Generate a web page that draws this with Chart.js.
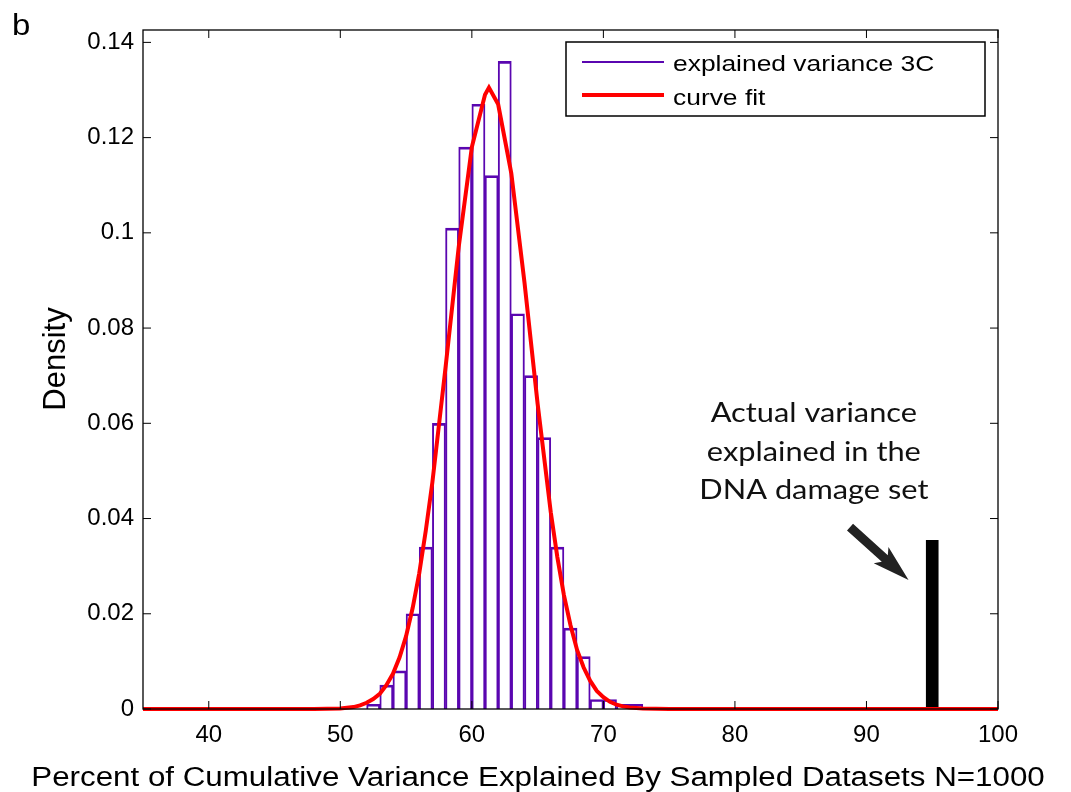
<!DOCTYPE html>
<html>
<head>
<meta charset="utf-8">
<script src="https://cdn.jsdelivr.net/npm/chart.js@4.4.1/dist/chart.umd.min.js"></script>
<style>
  html, body { margin: 0; padding: 0; background: #fff; }
  #wrap { width: 1071px; height: 792px; position: relative; }
</style>
</head>
<body>
<div id="wrap"><canvas id="chart"></canvas></div>
<script>
// histogram bins (centres) and densities, N=1000
const binCenters = [52.5, 53.5, 54.5, 55.5, 56.5, 57.5, 58.5, 59.5, 60.5, 61.5, 62.5,
  63.5, 64.5, 65.5, 66.5, 67.5, 68.5, 69.5, 70.5, 71.5, 72.5];
const density = [0.001, 0.005, 0.008, 0.020, 0.034, 0.060, 0.101, 0.118, 0.127, 0.112, 0.136,
  0.083, 0.070, 0.057, 0.034, 0.017, 0.011, 0.002, 0.002, 0.001, 0.001];

// fitted curve
const fitX = [35, 48, 49, 50, 50.5, 51, 51.5, 52, 52.5, 53, 53.5, 54, 54.5, 55, 55.5, 56, 56.5,
  57, 58, 59, 60, 61, 61.3, 62, 63, 64, 65, 66, 66.5, 67, 67.5, 68, 68.5, 69, 69.5, 70, 70.5,
  71, 71.5, 72, 73, 75, 100];
const fitY = [0, 0, 0.00004, 0.0001, 0.00025, 0.0004, 0.00076, 0.0013, 0.0021, 0.0032, 0.005,
  0.0074, 0.0108, 0.0153, 0.0212, 0.0285, 0.0375, 0.0476, 0.0717, 0.097, 0.118, 0.129, 0.1305,
  0.127, 0.1125, 0.0896, 0.0641, 0.0413, 0.0319, 0.0239, 0.0176, 0.0124, 0.0087, 0.0059, 0.0038,
  0.0025, 0.0015, 0.0009, 0.00055, 0.0003, 0.0001, 0, 0];

// actual DNA damage set value
const actualX = [95];
const actualY = [0.0355];

const xTicks = [40, 50, 60, 70, 80, 90, 100];
const yTicks = [0, 0.02, 0.04, 0.06, 0.08, 0.1, 0.12, 0.14];

const noteLines = ["Actual variance", "explained in the", "DNA damage set"];
const arrowFrom = [88.75, 0.0382];
const arrowTo = [93.2, 0.0271];

const PURPLE = "#5a06b0";
const RED = "#ff0000";
const FONT = "'Liberation Sans', Arial, sans-serif";

// text with the slight horizontal stretch of the original figure
const stretchText = (ctx, txt, x, y, align, sx = 1.1) => {
  ctx.save();
  ctx.translate(x, y);
  ctx.scale(sx, 1);
  ctx.textAlign = align;
  ctx.fillText(txt, 0, 0);
  ctx.restore();
};

const decor = {
  id: "decor",
  afterDatasetsDraw(chart) {
    const { ctx, chartArea: a, scales } = chart;
    const xs = scales.x, ys = scales.y;
    ctx.save();

    // axes box
    ctx.strokeStyle = "#000";
    ctx.lineWidth = 1.3;
    ctx.strokeRect(a.left, a.top, a.right - a.left, a.bottom - a.top);

    // inward tick marks, both sides
    ctx.lineWidth = 1;
    ctx.beginPath();
    for (const v of xTicks) {
      const px = xs.getPixelForValue(v);
      ctx.moveTo(px, a.bottom); ctx.lineTo(px, a.bottom - 8);
      ctx.moveTo(px, a.top); ctx.lineTo(px, a.top + 8);
    }
    for (const v of yTicks) {
      const py = ys.getPixelForValue(v);
      ctx.moveTo(a.left, py); ctx.lineTo(a.left + 8, py);
      ctx.moveTo(a.right, py); ctx.lineTo(a.right - 8, py);
    }
    ctx.stroke();

    // legend
    const lx = 566, ly = 42, lw = 419, lh = 74;
    ctx.fillStyle = "#fff";
    ctx.fillRect(lx, ly, lw, lh);
    ctx.lineWidth = 1.5;
    ctx.strokeStyle = "#000";
    ctx.strokeRect(lx, ly, lw, lh);
    ctx.lineCap = "butt";
    ctx.strokeStyle = PURPLE; ctx.lineWidth = 2;
    ctx.beginPath(); ctx.moveTo(582, 62); ctx.lineTo(664, 62); ctx.stroke();
    ctx.strokeStyle = RED; ctx.lineWidth = 4;
    ctx.beginPath(); ctx.moveTo(582, 95); ctx.lineTo(664, 95); ctx.stroke();
    ctx.fillStyle = "#000";
    ctx.font = "22px " + FONT;
    ctx.textBaseline = "alphabetic";
    stretchText(ctx, chart.data.datasets[1].label, 673, 71, "left", 1.2);
    stretchText(ctx, chart.data.datasets[0].label, 673, 105, "left", 1.2);

    // annotation text
    ctx.fillStyle = "#111";
    ctx.font = "27px Lato, 'Open Sans', sans-serif";
    const nx = xs.getPixelForValue(86.0);
    noteLines.forEach((t, i) => stretchText(ctx, t, nx, 422 + i * 38.5, "center", 1.14));

    // arrow
    const x0 = xs.getPixelForValue(arrowFrom[0]), y0 = ys.getPixelForValue(arrowFrom[1]);
    const x1 = xs.getPixelForValue(arrowTo[0]), y1 = ys.getPixelForValue(arrowTo[1]);
    const ang = Math.atan2(y1 - y0, x1 - x0);
    const len = Math.hypot(x1 - x0, y1 - y0);
    ctx.translate(x0, y0);
    ctx.rotate(ang);
    ctx.fillStyle = "#222";
    ctx.beginPath();
    ctx.moveTo(0, -4.5);
    ctx.lineTo(len - 32, -4.5);
    ctx.lineTo(len - 37, -11);
    ctx.lineTo(len, 0);
    ctx.lineTo(len - 37, 11);
    ctx.lineTo(len - 32, 4.5);
    ctx.lineTo(0, 4.5);
    ctx.closePath();
    ctx.fill();
    ctx.setTransform(1, 0, 0, 1, 0, 0);

    // panel letter and axis titles
    ctx.fillStyle = "#000";
    ctx.font = "30px " + FONT;
    stretchText(ctx, "b", 12, 35, "left");
    ctx.font = "27px " + FONT;
    stretchText(ctx, "Percent of Cumulative Variance Explained By Sampled Datasets N=1000", 538, 786, "center", 1.16);
    ctx.save();
    ctx.translate(65, 359);
    ctx.rotate(-Math.PI / 2);
    ctx.font = "31px " + FONT;
    ctx.textAlign = "center";
    ctx.fillText("Density", 0, 0);
    ctx.restore();

    ctx.restore();
  },
};

new Chart(document.getElementById("chart"), {
  type: "bar",
  data: {
    datasets: [
      {
        type: "line",
        label: "curve fit",
        data: fitX.map((x, i) => ({ x, y: fitY[i] })),
        borderColor: RED,
        borderWidth: 4,
        pointRadius: 0,
        tension: 0,
        clip: false,
        order: 0,
      },
      {
        label: "explained variance 3C",
        data: binCenters.map((x, i) => ({ x, y: density[i] })),
        backgroundColor: "rgba(255,255,255,0)",
        borderColor: PURPLE,
        borderWidth: { top: 2, left: 1.3, right: 1.3, bottom: 0 },
        borderSkipped: false,
        barPercentage: 1,
        categoryPercentage: 1,
        order: 2,
      },
      {
        label: "actual",
        data: actualX.map((x, i) => ({ x, y: actualY[i] })),
        backgroundColor: "#000",
        borderWidth: 0,
        barPercentage: 0.96,
        categoryPercentage: 1,
        order: 1,
      },
    ],
  },
  options: {
    responsive: true,
    maintainAspectRatio: false,
    animation: false,
    grouped: false,
    layout: { padding: { top: 30, right: 73, left: 0, bottom: 0 } },
    plugins: { legend: { display: false }, tooltip: { enabled: false } },
    scales: {
      x: {
        type: "linear",
        min: 35,
        max: 100,
        offset: false,
        grid: { display: false, drawTicks: false },
        border: { display: false },
        afterBuildTicks: (s) => { s.ticks = xTicks.map((v) => ({ value: v })); },
        afterFit: (s) => { s.height = 83; },
        ticks: { color: "#000", padding: 12, maxRotation: 0, font: { family: FONT, size: 24 } },
      },
      y: {
        min: 0,
        max: 0.1426,
        grid: { display: false, drawTicks: false },
        border: { display: false },
        afterBuildTicks: (s) => { s.ticks = yTicks.map((v) => ({ value: v })); },
        afterFit: (s) => { s.width = 143; },
        ticks: {
          color: "#000",
          padding: 9,
          font: { family: FONT, size: 24 },
          callback: (v) => String(+v.toFixed(2)),
        },
      },
    },
  },
  plugins: [decor],
});
</script>
</body>
</html>
